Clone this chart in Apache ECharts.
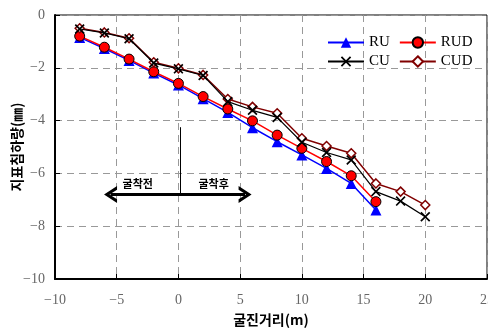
<!DOCTYPE html>
<html><head><meta charset="utf-8">
<script src="https://cdn.jsdelivr.net/npm/echarts@6/dist/echarts.min.js"></script>
<style>html,body{margin:0;padding:0;background:#fff}#c{width:488px;height:329px}</style>
</head><body><div id="c"></div>
<script>
const xRU = [-8,-6,-4,-2,0,2,4,6,8,10,12,14,16];
const RU  = [-0.85,-1.27,-1.72,-2.2,-2.65,-3.17,-3.69,-4.27,-4.8,-5.3,-5.81,-6.38,-7.39];
const RUD = [-0.8,-1.22,-1.67,-2.15,-2.59,-3.09,-3.56,-4.01,-4.55,-5.05,-5.55,-6.09,-7.07];
const xC  = [-8,-6,-4,-2,0,2,4,6,8,10,12,14,16,18,20];
const CU  = [-0.53,-0.68,-0.9,-1.82,-2.04,-2.29,-3.28,-3.61,-3.88,-4.82,-5.21,-5.49,-6.69,-7.05,-7.64];
const CUD = [-0.5,-0.66,-0.88,-1.79,-2.02,-2.27,-3.18,-3.48,-3.72,-4.67,-4.96,-5.24,-6.38,-6.69,-7.2];
const xTicks = {min:-10, max:25, interval:5};
const yTicks = {min:-10, max:0, interval:2};
const labelBefore = '굴착전', labelAfter = '굴착후';
const xName = '굴진거리(m)', yName = '지표침하량(㎜)';

const pair = (xs, ys) => xs.map((x,i)=>[x, ys[i]]);
const X_SYM = 'path://M0,1.2 L1.2,0 L5,3.8 L8.8,0 L10,1.2 L6.2,5 L10,8.8 L8.8,10 L5,6.2 L1.2,10 L0,8.8 L3.8,5 Z';
const CHEV = 'path://M0,10 L5,0 L10,10 L7.8,10 L5,4.2 L2.2,10 Z';
const serif = 'Liberation Serif';
const kr = 'Noto Sans CJK KR';

const chart = echarts.init(document.getElementById('c'), null, {renderer:'canvas'});
const legendText = {fontFamily: serif, fontSize: 15, color: '#000'};
chart.setOption({
  animation:false,
  grid:{left:55, top:15, width:432, height:264, show:true, borderColor:'#000', borderWidth:1, containLabel:false, outerBoundsMode:'none'},
  legend:[
    {data:['RU','RUD'], left:327, top:35, padding:0, itemWidth:36, itemHeight:13, itemGap:9, textStyle:legendText},
    {data:['CU','CUD'], left:327, top:54, padding:0, itemWidth:36, itemHeight:13, itemGap:9, textStyle:legendText}
  ],
  xAxis:{type:'value', min:xTicks.min, max:xTicks.max, interval:xTicks.interval,
    name:xName, nameLocation:'middle', nameGap:34, nameMoveOverlap:false,
    nameTextStyle:{fontFamily:kr, fontWeight:'bold', fontSize:14, color:'#000'},
    axisLine:{onZero:false, lineStyle:{color:'#000', width:2}},
    axisTick:{inside:true, length:5, lineStyle:{color:'#000'}},
    axisLabel:{fontFamily:serif, fontSize:14, color:'#666', margin:14, formatter:v=>String(v).replace('-','−')},
    splitLine:{show:true, lineStyle:{color:'#999', type:[7,5], width:1}}
  },
  yAxis:{type:'value', min:yTicks.min, max:yTicks.max, interval:yTicks.interval,
    name:yName, nameLocation:'middle', nameGap:31, nameMoveOverlap:false,
    nameTextStyle:{fontFamily:kr, fontWeight:'bold', fontSize:14, color:'#000'},
    axisLine:{onZero:false, lineStyle:{color:'#000', width:2}},
    axisTick:{inside:true, length:5, lineStyle:{color:'#000'}},
    axisLabel:{fontFamily:serif, fontSize:14, color:'#666', margin:10, formatter:v=>String(v).replace('-','−')},
    splitLine:{show:true, lineStyle:{color:'#999', type:[7,5], width:1}}
  },
  series:[
    {name:'RU', type:'line', data:pair(xRU,RU), symbol:'triangle', symbolSize:11,
     lineStyle:{color:'#0000FF', width:1.5}, itemStyle:{color:'#0000FF'}, z:2},
    {name:'RUD', type:'line', data:pair(xRU,RUD), symbol:'circle', symbolSize:10,
     lineStyle:{color:'#FF0000', width:1.5}, itemStyle:{color:'#FF0000', borderColor:'#000', borderWidth:1}, z:3},
    {name:'CUD', type:'line', data:pair(xC,CUD), symbol:'diamond', symbolSize:9,
     lineStyle:{color:'#800000', width:1.5}, itemStyle:{color:'#fff', borderColor:'#800000', borderWidth:1.5}, z:4},
    {name:'CU', type:'line', data:pair(xC,CU), symbol:X_SYM, symbolSize:10,
     lineStyle:{color:'#000', width:1.2}, itemStyle:{color:'#000'}, z:5},
    {name:'annot', type:'line', data:[], silent:true, z:6,
     markLine:{silent:true, animation:false, label:{show:false},
       data:[
         [{coord:[-5.5,-6.8], symbol:CHEV, symbolSize:[17,13], lineStyle:{color:'#000', width:3, type:'solid'}},
          {coord:[5.4,-6.8], symbol:CHEV, symbolSize:[17,13]}],
         [{coord:[0.15,-4.25], symbol:'none', lineStyle:{color:'#000', width:1, type:'solid'}},
          {coord:[0.15,-6.8], symbol:'none'}]
       ]},
     markPoint:{silent:true, symbol:'circle', symbolSize:0,
       label:{show:true, position:'inside', fontFamily:kr, fontWeight:'bold', fontSize:11, color:'#000', formatter:p=>p.name},
       data:[{name:labelBefore, coord:[-3.3,-6.4]},{name:labelAfter, coord:[2.85,-6.4]}]}
    }
  ]
});
</script></body></html>
